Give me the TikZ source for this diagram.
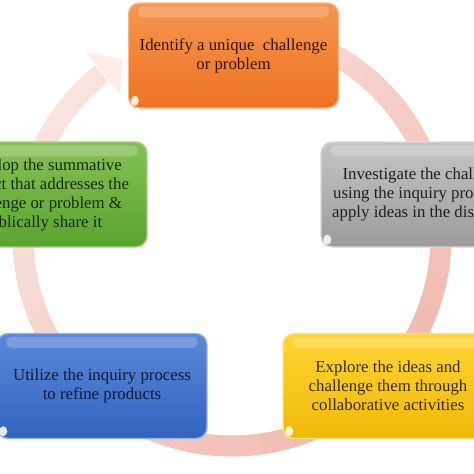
\documentclass[tikz,border=0pt]{standalone}
\usepackage{fontspec}
\setmainfont{Liberation Serif}
\definecolor{ringS}{HTML}{F0B9AE}
\definecolor{ringP}{HTML}{FBE5E1}
\definecolor{orB}{HTML}{EE7222}
\definecolor{orT}{HTML}{F59650}
\definecolor{orL}{HTML}{F8B882}
\definecolor{grB}{HTML}{5AA32E}
\definecolor{grT}{HTML}{86C156}
\definecolor{grL}{HTML}{A6D47E}
\definecolor{gyB}{HTML}{9C9C9C}
\definecolor{gyT}{HTML}{C4C4C4}
\definecolor{gyL}{HTML}{DADADA}
\definecolor{blB}{HTML}{3263BE}
\definecolor{blT}{HTML}{5B88D8}
\definecolor{blL}{HTML}{93B3EA}
\definecolor{yeB}{HTML}{F0B908}
\definecolor{yeT}{HTML}{FFD534}
\definecolor{yeL}{HTML}{FFE47C}
\begin{document}
\begin{tikzpicture}[x=1pt,y=-1pt,
  cbox/.style={rounded corners=11pt, minimum width=210pt, minimum height=105pt,
    inner sep=0pt, align=center, line width=1.4pt,
    font=\fontsize{16.8}{19}\selectfont},
  orbox/.style={cbox, draw=orL, top color=orT, bottom color=orB, text={rgb,255:red,45;green,22;blue,8}},
  grbox/.style={cbox, draw=grL, top color=grT, bottom color=grB, text={rgb,255:red,22;green,42;blue,10}},
  gybox/.style={cbox, draw=gyL, top color=gyT, bottom color=gyB, text={rgb,255:red,30;green,30;blue,30}},
  blbox/.style={cbox, draw=blL, top color=blT, bottom color=blB, text={rgb,255:red,10;green,24;blue,58}},
  yebox/.style={cbox, draw=yeL, top color=yeT, bottom color=yeB, text={rgb,255:red,55;green,40;blue,5}},
  gloss/.style={white, opacity=0.2, rounded corners=5pt},
  spot/.style={white, opacity=0.85}]
\useasboundingbox (0,0) rectangle (474,474);
\fill[white] (0,0) rectangle (474,474);
% ring arrow
\begin{scope}[shift={(232pt,-237pt)}, x=1pt, y=1pt]
  \foreach \a in {92,89,...,-229}{
    \pgfmathtruncatemacro\p{50+45*cos(\a+45)}
    \draw[line width=21pt, color=ringS!\p!ringP] (\a:209pt) arc[start angle=\a, end angle=\a-3.4, radius=209pt];
  }
  \fill[ringP!70!white, draw=white, line width=0.8pt] (121.5:209pt) -- (128.6:238pt) -- (128.2:180pt) -- cycle;
\end{scope}
% boxes
\node[orbox] (o) at (233.5,55.5) {Identify a unique\ \ challenge\\or problem};
\node[grbox] (g) at (42,194.5) {Develop the summative\\product that addresses the\\challenge or problem \&\\publically share it};
\node[gybox] (y) at (426,194.5) {Investigate the challenge\\using the inquiry process to\\apply ideas in the discipline};
\node[blbox] (b) at (102,386) {Utilize the inquiry process\\to refine products};
\node[yebox] (e) at (388,386) {Explore the ideas and\\challenge them through\\collaborative activities};
\foreach \n in {o,g,y,b,e}{
  \fill[gloss] ([xshift=10pt,yshift=-4pt]\n.north west) rectangle ([xshift=-10pt,yshift=-15pt]\n.north east);
  \fill[spot] ([xshift=7pt,yshift=8pt]\n.south west) ellipse (4pt and 5pt);
}
\end{tikzpicture}
\end{document}
